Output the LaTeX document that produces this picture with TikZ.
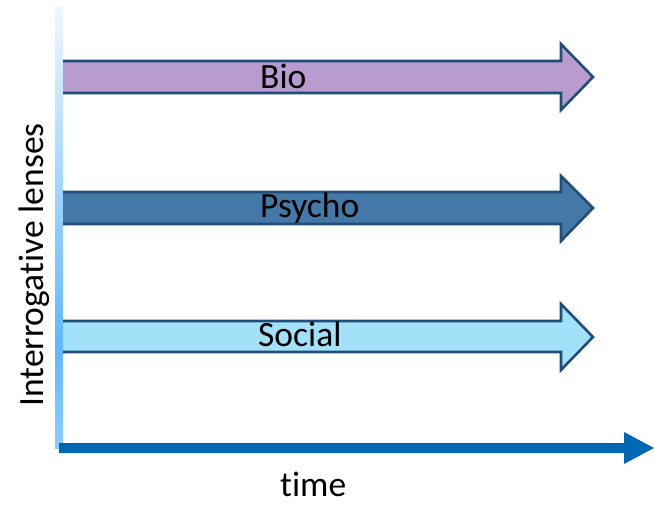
\documentclass[tikz,border=0pt]{standalone}
\usepackage{fontspec}
\setmainfont[Ligatures=NoCommon]{Carlito}
\definecolor{edgeblue}{HTML}{1F4E79}
\definecolor{biofill}{HTML}{B89BCF}
\definecolor{psyfill}{HTML}{4479A7}
\definecolor{socfill}{HTML}{A3E1F8}
\definecolor{timeblue}{HTML}{0067B3}
\definecolor{axtop}{HTML}{EDF7FF}
\definecolor{axmid}{HTML}{5FB7FF}
\definecolor{axbot}{HTML}{8BCEFF}
\tikzset{
  lensarrow/.style={draw=edgeblue, line width=2.6pt, line join=miter},
  lbl/.style={font=\fontsize{35.5}{40}\selectfont, inner sep=0pt, anchor=base west},
}
\begin{document}
\begin{tikzpicture}[x=1pt, y=-1pt]
\useasboundingbox (0,0) rectangle (654,504);
% vertical lens axis with gradient
\shade[top color=axtop, bottom color=axmid] (55,6) rectangle (63,345);
\shade[top color=axmid, bottom color=axbot] (55,344.5) rectangle (63,448);
% time axis arrow
\fill[timeblue] (59,443) -- (624,443) -- (624,432) -- (654,448) -- (624,464) -- (624,453) -- (59,453) -- cycle;
% block arrows for the three lenses (left ends left open)
\draw[lensarrow, fill=biofill] (63,61) -- (561,61) -- (561,44) -- (593,77) -- (561,110) -- (561,93) -- (63,93);
\draw[lensarrow, fill=psyfill] (63,192) -- (561,192) -- (561,176) -- (593,208) -- (561,241) -- (561,224) -- (63,224);
\draw[lensarrow, fill=socfill] (63,321) -- (561,321) -- (561,304) -- (593,337) -- (561,370) -- (561,352) -- (63,352);
% labels
\node[lbl] (bio) at (260,88) {Bio};
\node[lbl] (psycho) at (260,217) {Psycho};
\node[lbl] (social) at (258,346) {Social};
\node[lbl] (time) at (280,496.5) {time};
\node[lbl, anchor=base, rotate=90] (lenses) at (43,265) {Interrogative lenses};
\end{tikzpicture}
\end{document}
